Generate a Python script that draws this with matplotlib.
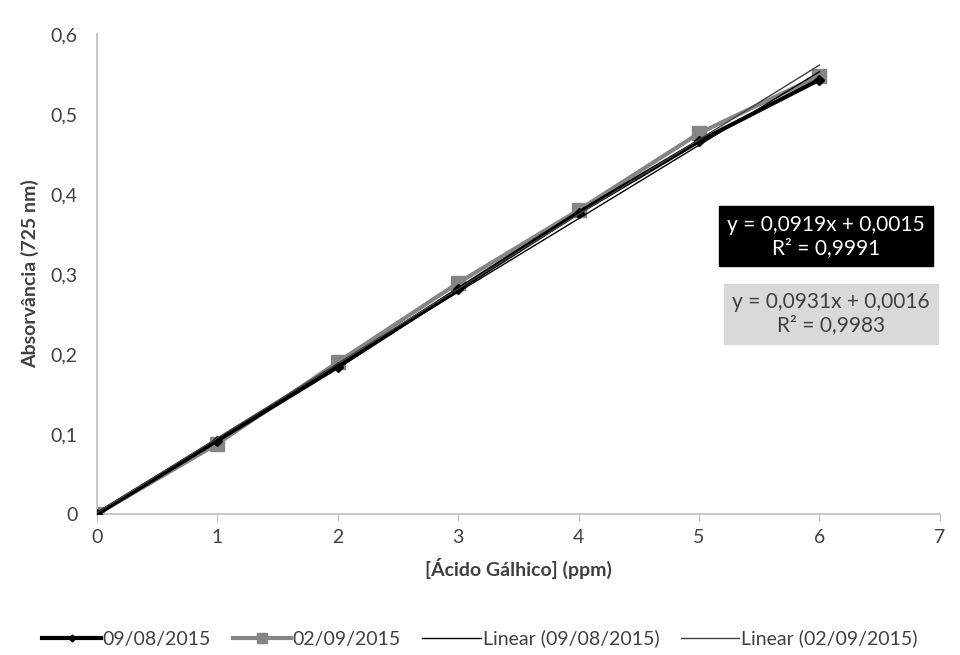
import numpy as np
import matplotlib.pyplot as plt

plt.rcParams['font.family'] = ['Lato', 'DejaVu Sans']

# dados
conc = [0, 1, 2, 3, 4, 5, 6]
abs_0908 = [0.0, 0.092, 0.184, 0.281, 0.377, 0.466, 0.543]
abs_0209 = [0.0, 0.088, 0.190, 0.289, 0.380, 0.476, 0.548]
labels = ['09/08/2015', '02/09/2015', 'Linear (09/08/2015)', 'Linear (02/09/2015)']
eq1 = 'y = 0,0919x + 0,0015\nR² = 0,9991'
eq2 = 'y = 0,0931x + 0,0016\nR² = 0,9983'

fig = plt.figure(figsize=(9.6, 6.55), dpi=100)
ax = fig.add_axes([0.101, 0.215, 0.878, 0.733])

ax.plot(conc, abs_0908, color='black', lw=3, marker='D', ms=5, label=labels[0], zorder=3)
ax.plot(conc, abs_0209, color='#858585', lw=3, marker='s', ms=10, label=labels[1], zorder=2)

xf = np.array([0, 6])
p1 = np.polyfit(conc, abs_0908, 1)
p2 = np.polyfit(conc, abs_0209, 1)
ax.plot(xf, np.polyval(p1, xf), color='black', lw=1, label=labels[2], zorder=4)
ax.plot(xf, np.polyval(p2, xf), color='#404040', lw=1, label=labels[3], zorder=4)

ax.set_xlim(0, 7)
ax.set_ylim(0, 0.6)
ax.set_xticks(range(8))
ax.set_yticks(np.arange(0, 0.61, 0.1))
ax.set_yticklabels(['0', '0,1', '0,2', '0,3', '0,4', '0,5', '0,6'])
ax.tick_params(axis='both', labelsize=14, colors='#404040')
ax.tick_params(axis='y', length=0, pad=14)
ax.tick_params(axis='x', length=5, color='#bfbfbf', pad=6)
for s in ['top', 'right']:
    ax.spines[s].set_visible(False)
for s in ['left', 'bottom']:
    ax.spines[s].set_color('#bfbfbf')
    ax.spines[s].set_linewidth(1.2)

ax.set_xlabel('[Ácido Gálhico] (ppm)', fontsize=14, fontweight='bold', color='#404040', labelpad=8)
ax.set_ylabel('Absorvância (725 nm)', fontsize=14, fontweight='bold', color='#404040', labelpad=8)

ax.text(0.865, 0.579, eq1, transform=ax.transAxes, ha='center', va='center', fontsize=15,
        color='white', linespacing=1.2,
        bbox=dict(boxstyle='square,pad=0.4', fc='black', ec='black'))
ax.text(0.871, 0.417, eq2, transform=ax.transAxes, ha='center', va='center', fontsize=15,
        color='#404040', linespacing=1.2,
        bbox=dict(boxstyle='square,pad=0.4', fc='#d9d9d9', ec='#d9d9d9'))

fig.legend(loc='center', bbox_to_anchor=(0.5, 0.025), ncol=4, frameon=False, fontsize=14,
           handlelength=3, handletextpad=0.1, columnspacing=1.1, markerscale=0.7,
           labelcolor='#404040')

plt.savefig('out.png', dpi=100)
